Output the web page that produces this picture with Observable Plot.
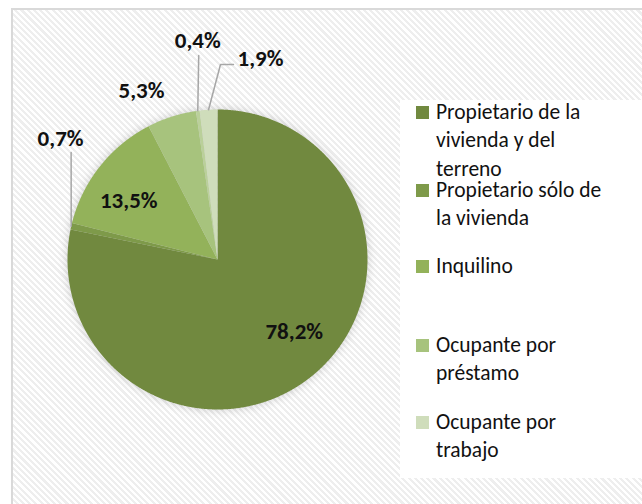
<!DOCTYPE html>
<html>
<head>
<meta charset="utf-8">
<script src="https://cdn.jsdelivr.net/npm/d3@7"></script>
<script src="https://cdn.jsdelivr.net/npm/@observablehq/plot@0.6"></script>
<style>
  body { margin: 0; background: #fff; }
  #wrap { position: relative; width: 642px; height: 504px; overflow: hidden; background: #fff; }
  #frame { position: absolute; left: 11px; top: 8px; right: 0; bottom: 0;
    border-left: 2px solid #d9d9d9; border-top: 2px solid #d9d9d9;
    background: repeating-linear-gradient(45deg, #ffffff 0px, #ffffff 2.2px, #eeeeee 2.2px, #eeeeee 4.4px); }
  #chart { position: absolute; left: 0; top: 0; }
  #legend { position: absolute; left: 400px; top: 100px; width: 242px; height: 378px; background: #fff; }
  .sw { position: absolute; left: 16px; width: 13px; height: 13px; }
  .lt { position: absolute; left: 36px; font-family: Carlito, Lato, "Open Sans", sans-serif; font-size: 21.5px; line-height: 28.5px; color: #111; white-space: nowrap; }
</style>
</head>
<body>
<div id="wrap">
  <div id="frame"></div>
  <div id="chart"></div>
  <div id="legend"></div>
</div>
<script>
// ---- data ----
const categories = [
  "Propietario de la vivienda y del terreno",
  "Propietario sólo de la vivienda",
  "Inquilino",
  "Ocupante por préstamo",
  "Otra forma de tenencia",
  "Ocupante por trabajo"
];
const values = [78.2, 0.7, 13.5, 5.3, 0.4, 1.9];
const valueLabels = ["78,2%", "0,7%", "13,5%", "5,3%", "0,4%", "1,9%"];
const legendCategories = [
  "Propietario de la vivienda y del terreno",
  "Propietario sólo de la vivienda",
  "Inquilino",
  "Ocupante por préstamo",
  "Ocupante por trabajo"
];
const legendLines = [
  ["Propietario de la", "vivienda y del", "terreno"],
  ["Propietario sólo de", "la vivienda"],
  ["Inquilino"],
  ["Ocupante por", "préstamo"],
  ["Ocupante por", "trabajo"]
];

// ---- styles / layout ----
const colors = ["#71893f", "#7e9a4a", "#93b25a", "#a7c37d", "#bad09a", "#cfddbb"];
const labelPlacement = [
  {da: -7.7, r: 0.70}, {da: 24.8, r: 1.32}, {da: -4.8, r: 0.71},
  {da: -6.4, r: 1.235}, {da: 2.4, r: 1.466}, {da: 15.5, r: 1.37}
];
const leaderPlacement = [
  {slice: 1, pts: [{da: 0, r: 1}, {da: 23.4, r: 1.209}]},
  {slice: 4, pts: [{da: 0, r: 1}, {da: 2.3, r: 1.366}]},
  {slice: 5, pts: [{da: 0, r: 1}, {da: 4.3, r: 1.30}, {da: 8.1, r: 1.304}]}
];
const legendCenters = [112, 190, 266, 345, 422];

// ---- geometry derived from values ----
const total = d3.sum(values);
let acc = 0;
const slices = values.map((v, i) => {
  const a0 = acc / total * 360; acc += v;
  const a1 = acc / total * 360;
  return {cat: categories[i], a0, a1, mid: (a0 + a1) / 2};
});
const rad = d => d * Math.PI / 180;
const polar = (deg, r) => ({x: r * Math.sin(rad(deg)), y: r * Math.cos(rad(deg))});

const slicePts = [];
slices.forEach(s => {
  slicePts.push({cat: s.cat, ...polar(0, 0)});
  const n = Math.max(2, Math.ceil((s.a1 - s.a0) / 0.25));
  for (let k = 0; k <= n; k++) slicePts.push({cat: s.cat, ...polar(s.a0 + (s.a1 - s.a0) * k / n, 1)});
  slicePts.push({cat: s.cat, ...polar(0, 0)});
});

const labelData = slices.map((s, i) => ({text: valueLabels[i], ...polar(s.mid + labelPlacement[i].da, labelPlacement[i].r)}));
const leaderData = [];
leaderPlacement.forEach((l, j) => l.pts.forEach(p => leaderData.push({id: j, ...polar(slices[l.slice].mid + p.da, p.r)})));

const chart = Plot.plot({
  width: 642, height: 504,
  marginLeft: 67, marginRight: 275, marginTop: 109, marginBottom: 95,
  x: {domain: [-1, 1], axis: null},
  y: {domain: [-1, 1], axis: null},
  color: {domain: categories, range: colors},
  style: {background: "transparent", overflow: "visible"},
  marks: [
    Plot.line(slicePts, {x: "x", y: "y", z: "cat", fill: "cat", stroke: "none", curve: "linear"}),
    Plot.line(leaderData, {x: "x", y: "y", z: "id", stroke: "#a6a6a6", strokeWidth: 1.5}),
    Plot.text(labelData, {x: "x", y: "y", text: "text", fontWeight: "bold", fontSize: 23,
      fontFamily: "Carlito, Lato, 'Open Sans', sans-serif", fill: "#111"})
  ]
});
const g = chart.querySelector('g[aria-label="line"]');
if (g) g.style.filter = "drop-shadow(0px 0px 5px rgba(0,0,0,0.18))";
document.getElementById("chart").appendChild(chart);

// ---- legend ----
const legend = document.getElementById("legend");
const legTop = 100;
legendCategories.forEach((c, i) => {
  const ci = categories.indexOf(c);
  const sw = document.createElement("div");
  sw.className = "sw";
  sw.style.top = (legendCenters[i] - legTop - 6.5) + "px";
  sw.style.background = colors[ci];
  legend.appendChild(sw);
  const t = document.createElement("div");
  t.className = "lt";
  t.style.top = (legendCenters[i] - legTop - 14.25) + "px";
  t.innerHTML = legendLines[i].join("<br>");
  legend.appendChild(t);
});
</script>
</body>
</html>
